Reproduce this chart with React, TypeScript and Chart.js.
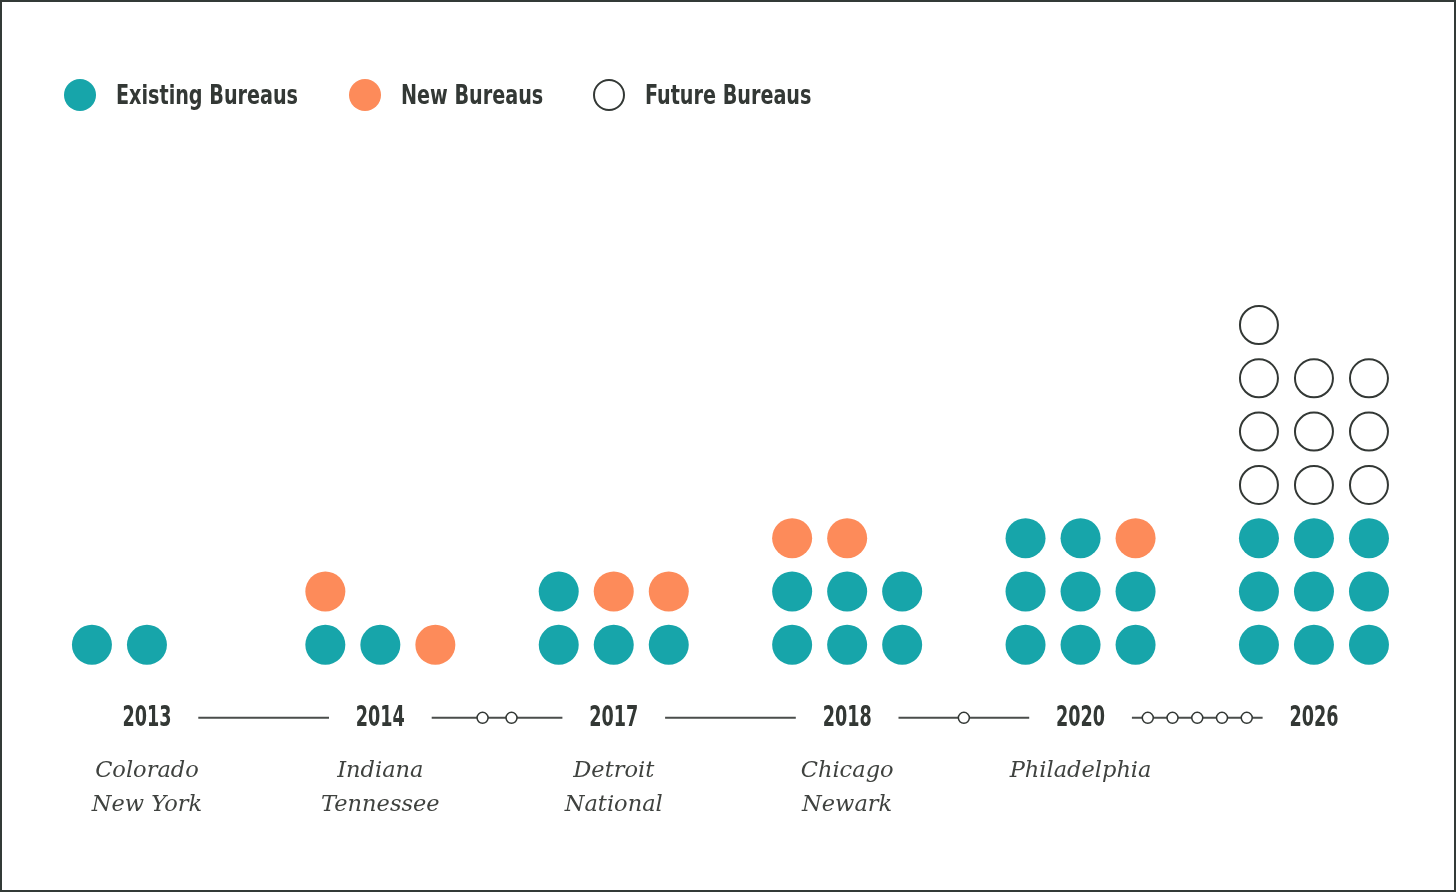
import React, { useEffect, useRef } from "react";
import { Chart, registerables } from "chart.js";

Chart.register(...registerables);

// ---------- DATA ----------
const years = [2013, 2014, 2017, 2018, 2020, 2026];
const existingCounts = [2, 2, 4, 6, 8, 9];
const newCounts = [0, 2, 2, 2, 1, 0];
const futureCounts = [0, 0, 0, 0, 0, 10];
const cityLabels = [
  ["Colorado", "New York"],
  ["Indiana", "Tennessee"],
  ["Detroit", "National"],
  ["Chicago", "Newark"],
  ["Philadelphia"],
  [],
];
const legendLabels = ["Existing Bureaus", "New Bureaus", "Future Bureaus"];

// ---------- STYLE ----------
const TEAL = "#17a5aa";
const ORANGE = "#fd8b5a";
const INK = "#333835";
const CITY_INK = "#3f423f";
const YEAR_FONT = "'Liberation Sans Narrow', 'DejaVu Sans Condensed', 'Roboto', sans-serif";
const CITY_FONT = "'DejaVu Serif', 'Liberation Serif', serif";

const COL_STEP = 0.2357; // horizontal step between dot columns (in group units)
const PER_ROW = 3;
const TIMELINE_Y = -1.37; // in row units
const LINE_INSET = 0.22;

type P = { x: number; y: number };

function buildDots() {
  const existing: P[] = [];
  const added: P[] = [];
  const future: P[] = [];
  years.forEach((_, g) => {
    const kinds: P[][] = [];
    for (let i = 0; i < existingCounts[g]; i++) kinds.push(existing);
    for (let i = 0; i < newCounts[g]; i++) kinds.push(added);
    for (let i = 0; i < futureCounts[g]; i++) kinds.push(future);
    kinds.forEach((target, k) => {
      const col = k % PER_ROW;
      const row = Math.floor(k / PER_ROW);
      target.push({ x: g + (col - 1) * COL_STEP, y: row });
    });
  });
  return { existing, added, future };
}

function buildTimeline() {
  const line: (P | { x: number; y: null })[] = [];
  const markers: P[] = [];
  for (let g = 0; g < years.length - 1; g++) {
    line.push({ x: g + LINE_INSET, y: TIMELINE_Y });
    line.push({ x: g + 1 - LINE_INSET, y: TIMELINE_Y });
    line.push({ x: g + 0.5, y: null });
    const skipped: number[] = [];
    for (let y = years[g] + 1; y < years[g + 1]; y++) skipped.push(y);
    const n = skipped.length;
    const step = n <= 2 ? 0.124 : 0.106;
    skipped.forEach((_, i) => {
      markers.push({ x: g + 0.5 + (i - (n - 1) / 2) * step, y: TIMELINE_Y });
    });
  }
  return { line, markers };
}

const labelPlugin = {
  id: "timelineLabels",
  afterDatasetsDraw(chart: any) {
    const { ctx, scales } = chart;
    const xs = scales.x;
    const ys = scales.y;
    const yPix = ys.getPixelForValue(TIMELINE_Y);
    ctx.save();
    ctx.textAlign = "center";
    ctx.textBaseline = "middle";
    years.forEach((yr, g) => {
      const xPix = xs.getPixelForValue(g);
      ctx.fillStyle = INK;
      ctx.font = `bold 28px ${YEAR_FONT}`;
      const label = String(yr);
      const w = ctx.measureText(label).width;
      ctx.fillText(label, xPix, yPix + 1, Math.min(w, 49));
      ctx.fillStyle = CITY_INK;
      ctx.font = `italic 22.5px ${CITY_FONT}`;
      cityLabels[g].forEach((c, i) => {
        ctx.fillText(c, xPix, yPix + 53 + i * 34);
      });
    });
    ctx.restore();
  },
};

export default function App() {
  const canvasRef = useRef<HTMLCanvasElement | null>(null);

  useEffect(() => {
    document.body.style.margin = "0";
    const canvas = canvasRef.current;
    if (!canvas) return;
    const dots = buildDots();
    const tl = buildTimeline();
    const chart = new Chart(canvas, {
      type: "scatter",
      data: {
        datasets: [
          {
            label: legendLabels[0],
            data: dots.existing,
            backgroundColor: TEAL,
            borderColor: TEAL,
            borderWidth: 0,
            pointRadius: 20,
            order: 1,
          },
          {
            label: legendLabels[1],
            data: dots.added,
            backgroundColor: ORANGE,
            borderColor: ORANGE,
            borderWidth: 0,
            pointRadius: 20,
            order: 1,
          },
          {
            label: legendLabels[2],
            data: dots.future,
            backgroundColor: "#ffffff",
            borderColor: INK,
            borderWidth: 2,
            pointRadius: 19,
            order: 1,
          },
          {
            label: "skipped",
            data: tl.markers,
            backgroundColor: "#ffffff",
            borderColor: INK,
            borderWidth: 1.5,
            pointRadius: 5.5,
            order: 1,
          },
          {
            label: "timeline",
            data: tl.line as any,
            showLine: true,
            spanGaps: false,
            borderColor: "#4a4d4b",
            borderWidth: 2,
            pointRadius: 0,
            order: 2,
          } as any,
        ],
      },
      plugins: [labelPlugin],
      options: {
        animation: false,
        responsive: false,
        events: [],
        layout: { padding: 0, autoPadding: false },
        plugins: {
          legend: { display: false },
          tooltip: { enabled: false },
        },
        scales: {
          x: { type: "linear", display: false, min: -0.621, max: 5.6 },
          y: { type: "linear", display: false, min: -4.6, max: 12.06 },
        },
      },
    });
    return () => chart.destroy();
  }, []);

  const legendItems = [
    { left: 62, fill: TEAL, border: "none" },
    { left: 347, fill: ORANGE, border: "none" },
    { left: 591, fill: "#ffffff", border: `2px solid ${INK}` },
  ];

  return (
    <div
      style={{
        width: 1456,
        height: 892,
        boxSizing: "border-box",
        border: "2px solid #333a37",
        position: "relative",
        background: "#ffffff",
        overflow: "hidden",
      }}
    >
      <canvas
        ref={canvasRef}
        width={1452}
        height={888}
        style={{ position: "absolute", left: 0, top: 0, display: "block" }}
      />
      {legendItems.map((it, i) => (
        <div
          key={i}
          style={{
            position: "absolute",
            left: it.left,
            top: 77,
            height: 32,
            display: "flex",
            alignItems: "center",
            whiteSpace: "nowrap",
          }}
        >
          <span
            style={{
              width: 32,
              height: 32,
              borderRadius: "50%",
              background: it.fill,
              border: it.border,
              boxSizing: "border-box",
              display: "inline-block",
              marginRight: 20,
              flexShrink: 0,
            }}
          />
          <span
            style={{
              fontFamily: YEAR_FONT,
              fontWeight: "bold",
              fontSize: 26,
              color: INK,
              display: "inline-block",
              transform: "scaleX(0.82)",
              transformOrigin: "left center",
            }}
          >
            {legendLabels[i]}
          </span>
        </div>
      ))}
    </div>
  );
}
